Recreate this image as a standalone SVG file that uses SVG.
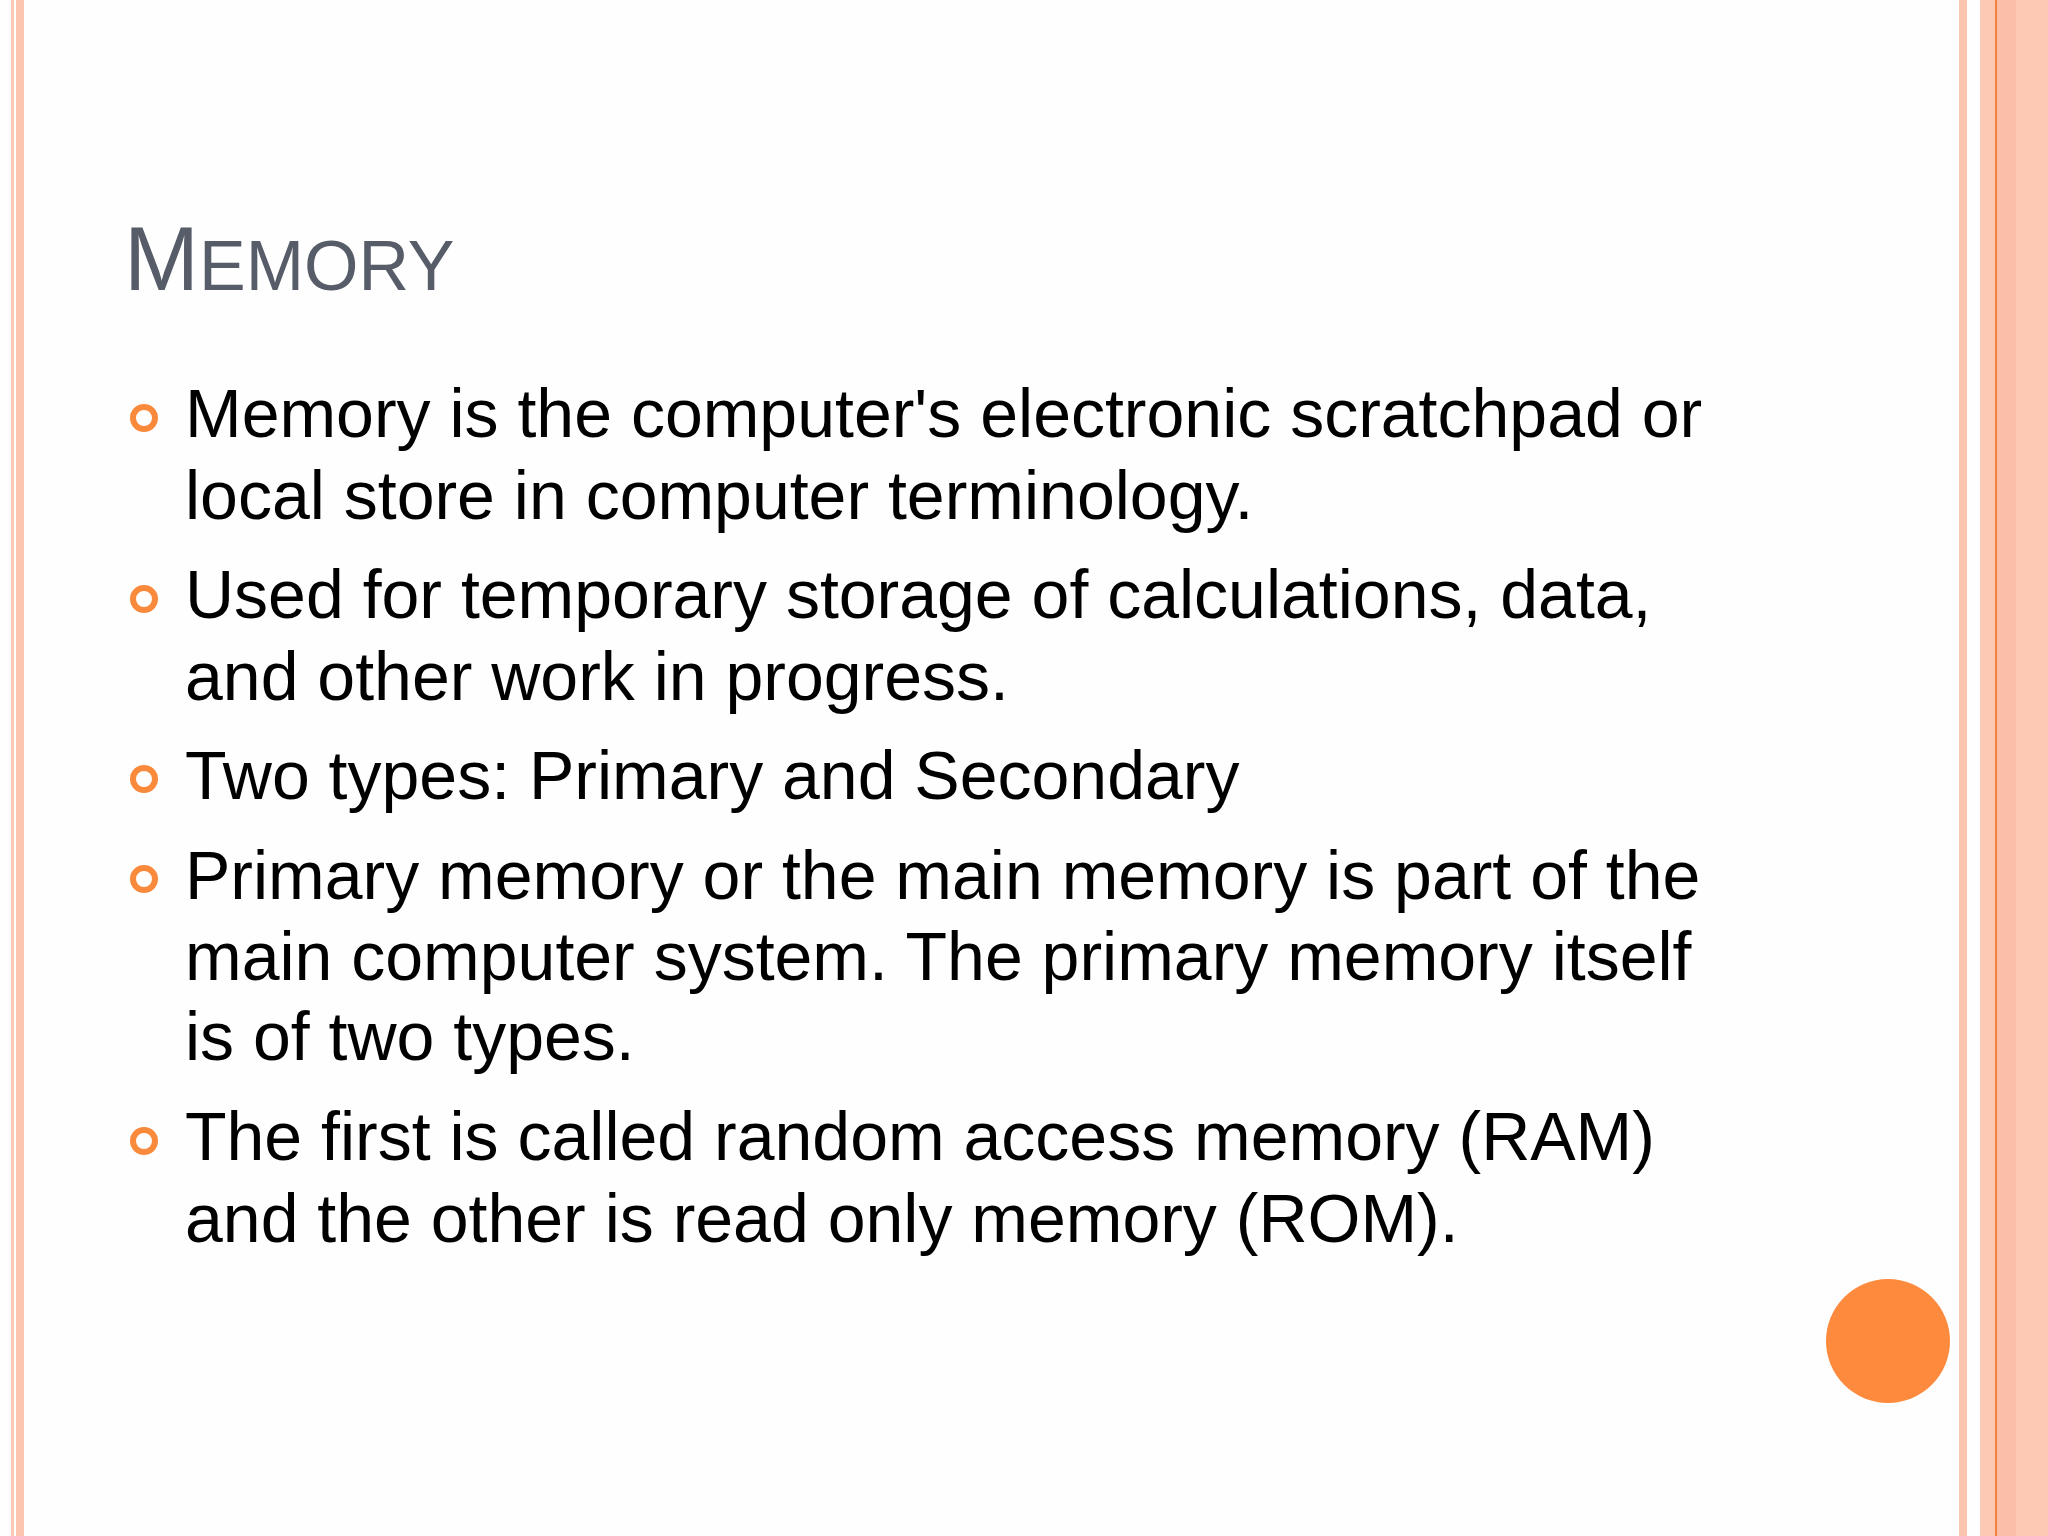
<svg xmlns="http://www.w3.org/2000/svg" width="2048" height="1536" viewBox="0 0 2048 1536">
<style>
.t{font-family:"Liberation Sans",Arial,sans-serif;font-size:68px;fill:#000}
.b{fill:none;stroke:#f98a3c;stroke-width:6}
</style>
<rect width="2048" height="1536" fill="#fefefe"/>
<g id="border">
<rect x="11" y="0" width="3" height="1536" fill="#fbc8b4"/>
<rect x="16" y="0" width="8" height="1536" fill="#fbc5b0"/>
<rect x="1959" y="0" width="8" height="1536" fill="#fcc5b0"/>
<rect x="1980" y="0" width="68" height="1536" fill="#fdc8b4"/>
<rect x="1996" y="0" width="20" height="1536" fill="#fbbea8"/>
<rect x="1995" y="0" width="2" height="1536" fill="#f0803e"/>
</g>
<g id="title"><text x="124" y="290" font-family="Liberation Sans,Arial,sans-serif" font-size="90" fill="#575c69">M<tspan font-size="70">EMORY</tspan></text></g>
<g id="bullets">
<circle class="b" cx="144" cy="418" r="11"/>
<circle class="b" cx="144" cy="599" r="11"/>
<circle class="b" cx="144" cy="779" r="11"/>
<circle class="b" cx="144" cy="879" r="11"/>
<circle class="b" cx="144" cy="1141" r="11"/>
<text class="t" x="185" y="437">Memory is the computer's electronic scratchpad or</text>
<text class="t" x="185" y="519">local store in computer terminology.</text>
<text class="t" x="185" y="618">Used for temporary storage of calculations, data,</text>
<text class="t" x="185" y="700">and other work in progress.</text>
<text class="t" x="185" y="799">Two types: Primary and Secondary</text>
<text class="t" x="185" y="899">Primary memory or the main memory is part of the</text>
<text class="t" x="185" y="980">main computer system. The primary memory itself</text>
<text class="t" x="185" y="1060">is of two types.</text>
<text class="t" x="185" y="1160">The first is called random access memory (RAM)</text>
<text class="t" x="185" y="1242">and the other is read only memory (ROM).</text>
</g>
<circle id="dot" cx="1888" cy="1341" r="62" fill="#fd8a3d"/>
</svg>
